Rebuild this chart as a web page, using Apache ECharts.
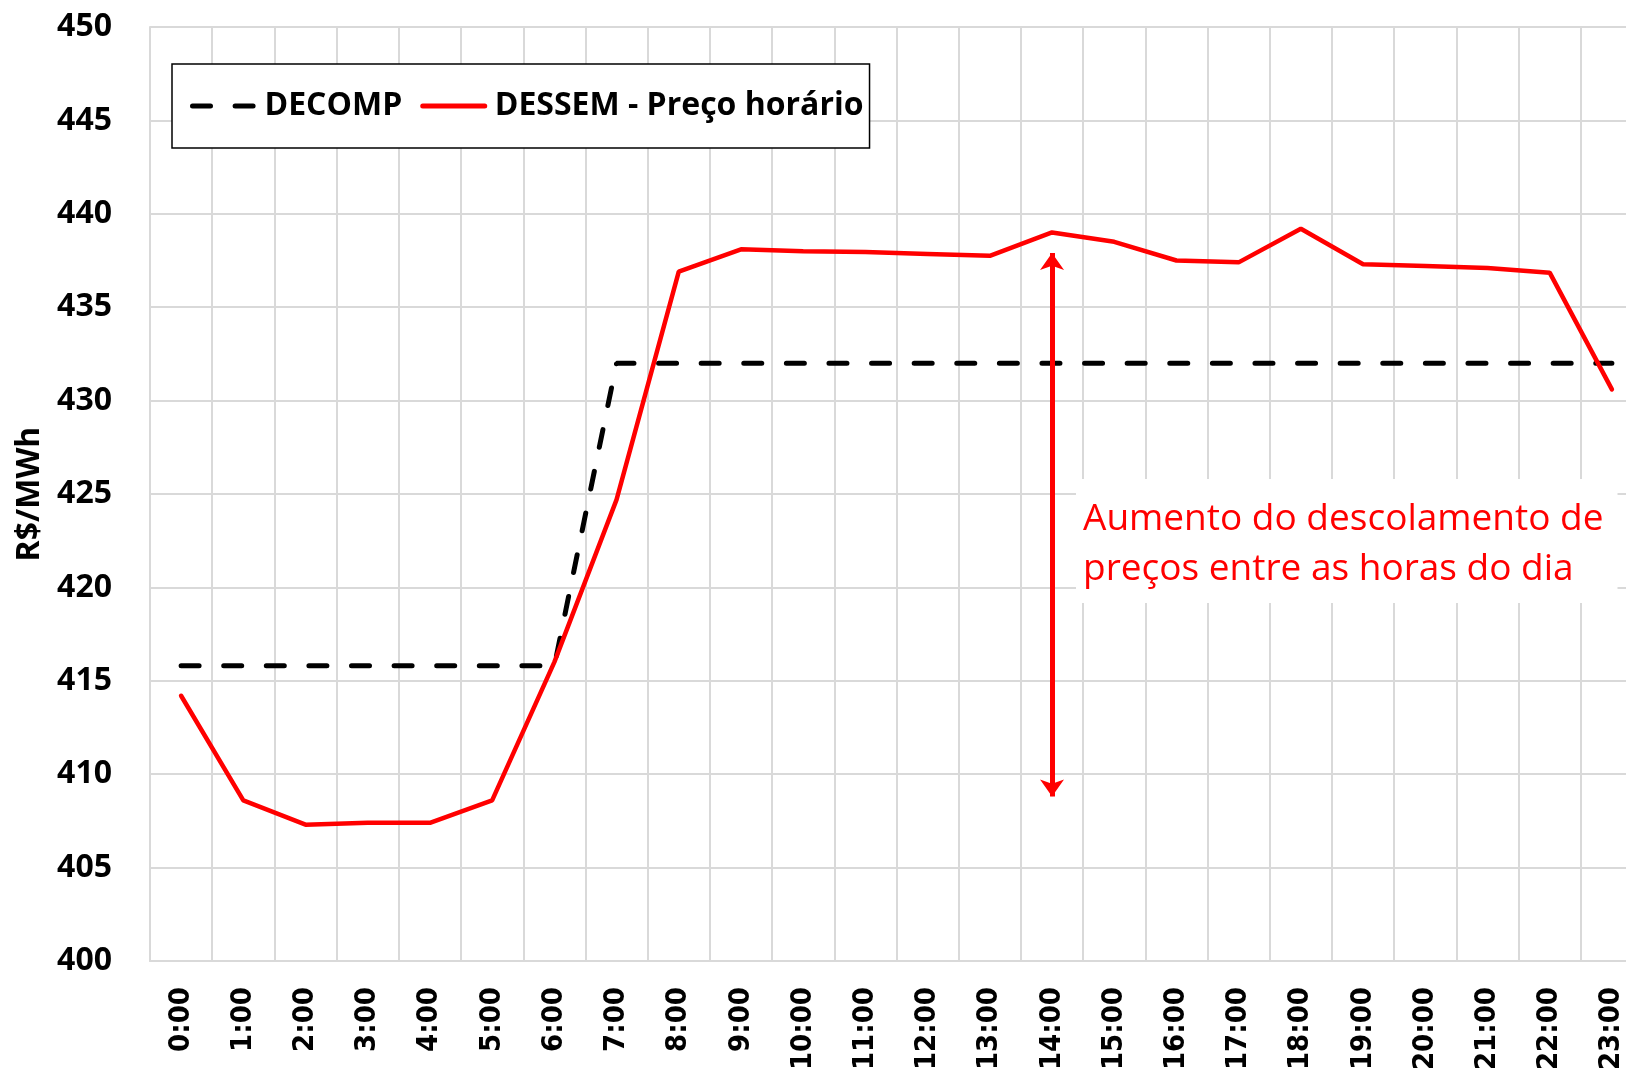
<!DOCTYPE html>
<html>
<head>
<meta charset="utf-8">
<script src="https://cdn.jsdelivr.net/npm/echarts@6/dist/echarts.min.js"></script>
<style>
  html, body { margin: 0; padding: 0; background: #fff; }
  #chart { width: 1626px; height: 1073px; }
</style>
</head>
<body>
<div id="chart"></div>
<script>
  // dados
  var horas = ['0:00', '1:00', '2:00', '3:00', '4:00', '5:00', '6:00', '7:00', '8:00', '9:00', '10:00', '11:00',
    '12:00', '13:00', '14:00', '15:00', '16:00', '17:00', '18:00', '19:00', '20:00', '21:00', '22:00', '23:00'];
  var decomp = [415.8, 415.8, 415.8, 415.8, 415.8, 415.8, 415.8, 432, 432, 432, 432, 432,
    432, 432, 432, 432, 432, 432, 432, 432, 432, 432, 432, 432];
  var dessem = [414.2, 408.6, 407.3, 407.4, 407.4, 408.6, 416.0, 424.7, 436.9, 438.1, 438.0, 437.95,
    437.85, 437.75, 439.0, 438.5, 437.5, 437.4, 439.2, 437.3, 437.2, 437.1, 436.85, 430.6];
  // seta da anotação (hora, topo, base)
  var setaHora = '14:00';
  var setaTopo = 437.9;
  var setaBase = 408.8;
  var textoAnotacao = 'Aumento do descolamento de\npreços entre as horas do dia';

  var myChart = echarts.init(document.getElementById('chart'));
  var corGrade = '#d9d9d9';
  var tracejado = [18, 24.6];

  var option = {
    backgroundColor: '#ffffff',
    animation: false,
    // a área do gráfico passa da borda direita (imagem original recortada)
    grid: { left: 150, top: 27, bottom: 112, right: -17, containLabel: false, outerBoundsMode: 'none' },
    legend: {
      left: 172,
      top: 64,
      padding: [25, 6, 25, 18],
      itemWidth: 62,
      itemHeight: 34,
      itemGap: 18,
      borderColor: '#000',
      borderWidth: 1.5,
      borderRadius: 0,
      backgroundColor: '#fff',
      itemStyle: { opacity: 0 },
      data: [
        { name: 'DECOMP', lineStyle: { color: '#000', width: 5, type: tracejado, cap: 'round' } },
        { name: 'DESSEM - Preço horário', lineStyle: { color: '#ff0000', width: 5, type: 'solid', cap: 'round' } }
      ],
      textStyle: {
        fontFamily: 'Open Sans',
        fontWeight: 'bold',
        fontSize: 32,
        color: '#000',
        lineHeight: 34,
        padding: [0, 0, 0, 5]
      }
    },
    xAxis: {
      type: 'category',
      data: horas,
      boundaryGap: true,
      axisLine: { lineStyle: { color: corGrade, width: 2 } },
      axisTick: { show: false },
      axisLabel: {
        rotate: 90,
        margin: 26,
        interval: 0,
        color: '#000',
        fontWeight: 'bold',
        fontSize: 29,
        fontFamily: "'DejaVu Sans Condensed', 'DejaVu Sans'"
      },
      splitLine: { show: true, interval: 0, lineStyle: { color: corGrade, width: 2 } }
    },
    yAxis: {
      type: 'value',
      min: 400,
      max: 450,
      interval: 5,
      name: 'R$/MWh',
      nameLocation: 'middle',
      nameGap: 101,
      nameTextStyle: {
        fontFamily: 'Open Sans',
        fontWeight: 'bold',
        fontSize: 32,
        color: '#000'
      },
      axisLine: { show: true, lineStyle: { color: corGrade, width: 2 } },
      axisTick: { show: false },
      axisLabel: {
        margin: 38,
        color: '#000',
        fontFamily: 'Open Sans',
        fontWeight: 'bold',
        fontSize: 32
      },
      splitLine: { lineStyle: { color: corGrade, width: 2 } }
    },
    series: [
      {
        name: 'DECOMP',
        type: 'line',
        data: decomp,
        symbol: 'none',
        color: '#000',
        lineStyle: { color: '#000', width: 5, type: tracejado, cap: 'round' }
      },
      {
        name: 'DESSEM - Preço horário',
        type: 'line',
        data: dessem,
        symbol: 'none',
        color: '#ff0000',
        lineStyle: { color: '#ff0000', width: 4.5, cap: 'round' },
        markLine: {
          silent: true,
          symbol: ['arrow', 'arrow'],
          symbolSize: [18, 17],
          label: { show: false },
          lineStyle: { color: '#ff0000', width: 5, type: 'solid' },
          data: [[{ coord: [setaHora, setaTopo] }, { coord: [setaHora, setaBase] }]]
        }
      }
    ],
    graphic: [
      {
        type: 'text',
        left: 1076,
        top: 479,
        z: 10,
        style: {
          text: textoAnotacao,
          fill: '#ff0000',
          fontFamily: 'Open Sans',
          fontSize: 37,
          lineHeight: 50,
          backgroundColor: '#fff',
          padding: [15, 14, 9, 7]
        }
      }
    ]
  };

  myChart.setOption(option);

  window.addEventListener('resize', function () {
    myChart.resize();
  });
</script>
</body>
</html>
